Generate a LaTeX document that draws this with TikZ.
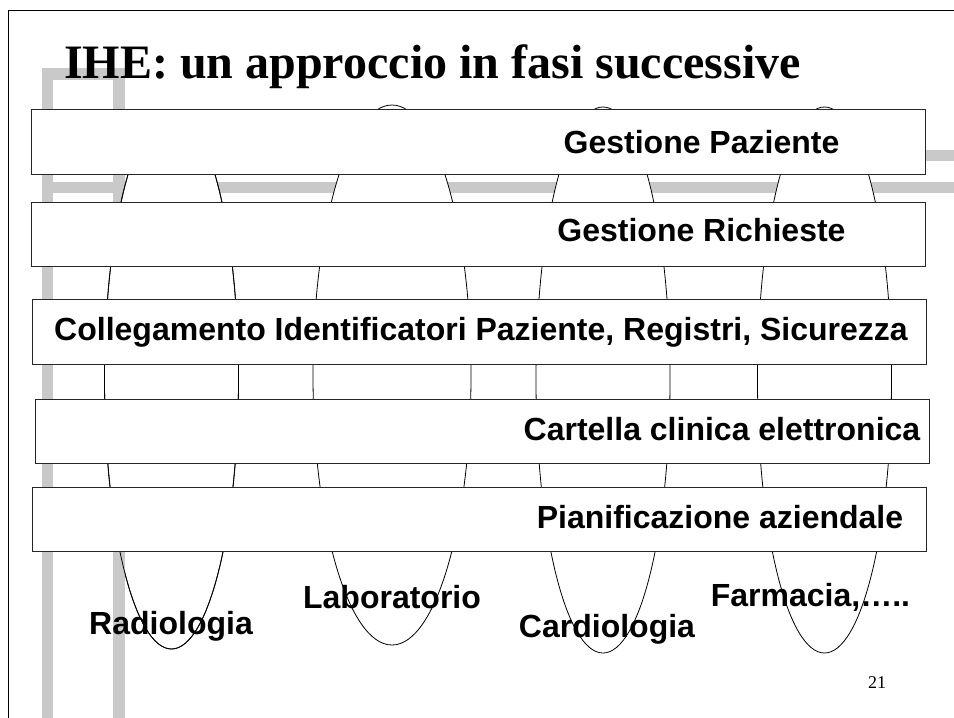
\documentclass[tikz,border=0pt]{standalone}
\usepackage{fontspec}
\setmainfont{Liberation Serif}
\setsansfont{Liberation Sans}
\usetikzlibrary{shapes.geometric}
\tikzset{
  deco/.style={fill=black!21, draw=none},
  dept/.style={ellipse, draw=black, line width=0.8pt, fill=white, inner sep=0pt},
  layer/.style={rectangle, draw=black!85, line width=1pt, fill=white, inner sep=0pt, minimum width=894pt},
  layertext/.style={anchor=base, font=\sffamily\bfseries\fontsize{32}{38}\selectfont, inner sep=0pt},
  depttext/.style={anchor=base, font=\sffamily\bfseries\fontsize{32}{38}\selectfont, inner sep=0pt},
}
\begin{document}
\begin{tikzpicture}[x=1pt,y=-1pt]
\useasboundingbox (0,0) rectangle (954,718);
\fill[white] (0,0) rectangle (954,718);
% slide frame
\draw[line width=1pt] (8,718) -- (8,10) -- (954,10);
% grey decoration
\fill[deco] (42,68) rectangle (53,718);
\fill[deco] (113,68) rectangle (125,718);
\fill[deco] (42,68) rectangle (125,80);
\fill[deco] (113,150) rectangle (954,161);
\fill[deco] (42,182) rectangle (954,193);
% title
\node[anchor=base west, inner sep=0pt, font=\rmfamily\bfseries\fontsize{48}{56}\selectfont] (title) at (64,78) {IHE: un approccio in fasi successive};
% department ellipses
\node[dept, minimum width=134pt, minimum height=539pt] (rad) at (171.5,379.5) {};
\node[dept, minimum width=158pt, minimum height=540pt] (lab) at (392,375) {};
\node[dept, minimum width=134pt, minimum height=546pt] (card) at (603,380) {};
\node[dept, minimum width=134pt, minimum height=546pt] (farm) at (824.5,380) {};
% grey bar showing through the open bottom of the Radiologia ellipse
\fill[deco] (113,552) rectangle (125,718);
\draw[line width=0.8pt] (rad.center) ellipse [x radius=67pt, y radius=269.5pt];
% layers
\node[layer, minimum height=65pt] (l1) at (478,141.5) {};
\node[layer, minimum height=64pt] (l2) at (478,234) {};
\node[layer, minimum height=65pt] (l3) at (479,331.5) {};
\node[layer, minimum height=64pt] (l4) at (482,431) {};
\node[layer, minimum height=64pt] (l5) at (479,519) {};
\node[layertext] (t1) at (701.5,153) {Gestione Paziente};
\node[layertext] (t2) at (701.5,241) {Gestione Richieste};
\node[layertext] (t3) at (481,340) {Collegamento Identificatori Paziente, Registri, Sicurezza};
\node[layertext] (t4) at (722,440) {Cartella clinica elettronica};
\node[layertext] (t5) at (720,528) {Pianificazione aziendale};
% department labels
\node[depttext] (radt) at (171,634) {Radiologia};
\node[depttext] (labt) at (392,608) {Laboratorio};
\node[depttext] (cardt) at (607,637) {Cardiologia};
\node[depttext] (farmt) at (810.5,606) {Farmacia,…..};
% page number
\node[anchor=base, inner sep=0pt, font=\rmfamily\fontsize{18}{22}\selectfont] (page) at (877,688) {21};
\end{tikzpicture}
\end{document}
